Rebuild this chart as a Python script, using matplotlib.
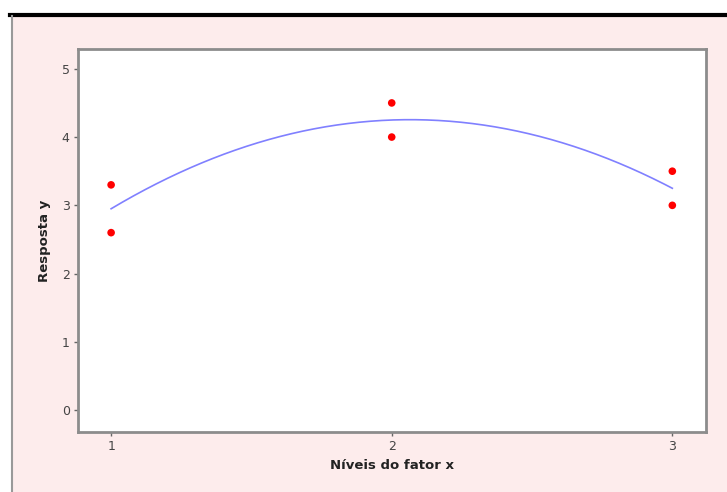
import numpy as np
import matplotlib
matplotlib.use("Agg")
import matplotlib.pyplot as plt
from matplotlib.lines import Line2D
from matplotlib.patches import Rectangle

# Data
x_levels = [1, 1, 2, 2, 3, 3]
y_resp = [3.3, 2.6, 4.5, 4.0, 3.5, 3.0]
x_ticks = [1, 2, 3]
y_ticks = [0, 1, 2, 3, 4, 5]

W, H = 727, 492
fig = plt.figure(figsize=(W / 100, H / 100), dpi=100)
fig.patch.set_facecolor("white")

# pink panel with black top border and gray left border
fig.patches.append(Rectangle((11 / W, 0), 1 - 11 / W, 1 - 15 / H,
                             transform=fig.transFigure, facecolor="#fdecec",
                             edgecolor="none", zorder=-5))
fig.lines.append(Line2D([10 / W, 1], [1 - 15 / H, 1 - 15 / H], transform=fig.transFigure,
                        color="black", lw=3, zorder=-4))
fig.lines.append(Line2D([11.5 / W, 11.5 / W], [0, 1 - 16 / H], transform=fig.transFigure,
                        color="#999999", lw=1.5, zorder=-4))

ax = fig.add_axes([78 / W, 1 - 432 / H, (706 - 78) / W, (432 - 49) / H])
ax.set_zorder(1)
ax.set_facecolor("white")

# quadratic fit
coef = np.polyfit(x_levels, y_resp, 2)
xs = np.linspace(1, 3, 200)
ax.plot(xs, np.polyval(coef, xs), color="#8080ff", lw=1.2, zorder=2)
ax.scatter(x_levels, y_resp, color="#ff0000", s=30, zorder=3, edgecolors="none")

ax.set_xlim(0.882, 3.12)
ax.set_ylim(-0.32, 5.29)
ax.set_xticks(x_ticks)
ax.set_yticks(y_ticks)
ax.tick_params(colors="#666666", labelsize=9, length=3, width=1, pad=3)
for lab in ax.get_xticklabels() + ax.get_yticklabels():
    lab.set_color("#444444")
for s in ax.spines.values():
    s.set_color("#8c8c8c")
    s.set_linewidth(2)

ax.set_xlabel("Níveis do fator x", fontsize=9.5, fontweight="bold", color="#222222", labelpad=4)
ax.set_ylabel("Resposta y", fontsize=9.5, fontweight="bold", color="#222222", labelpad=8)

fig.savefig("out.png", dpi=100, facecolor=fig.get_facecolor())
